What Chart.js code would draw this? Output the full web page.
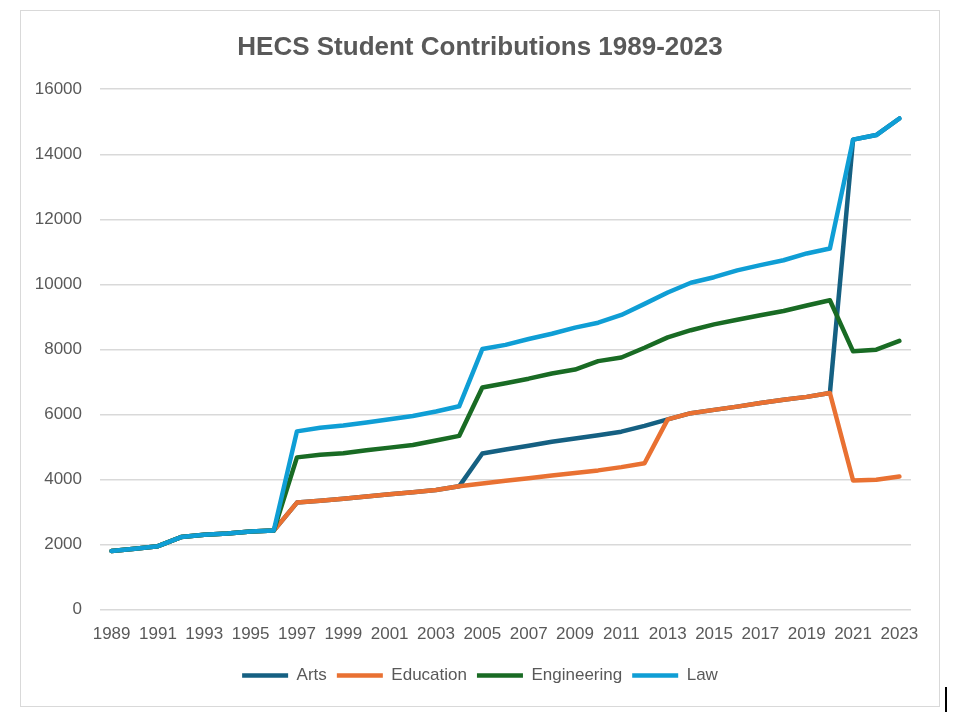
<!DOCTYPE html>
<html>
<head>
<meta charset="utf-8">
<script src="https://cdn.jsdelivr.net/npm/chart.js@4.4.1/dist/chart.umd.min.js"></script>
<style>
  body { margin: 0; background: #fff; }
  #frame { position: absolute; left: 20px; top: 10px; width: 920px; height: 697px;
           border: 1px solid #d9d9d9; box-sizing: border-box; }
  #cursor { position: absolute; left: 945px; top: 687px; width: 2px; height: 25px; background: #000; }
</style>
</head>
<body>
<div id="frame"><canvas id="hecsChart"></canvas></div>
<div id="cursor"></div>
<script>
const years = ['1989','1990','1991','1992','1993','1994','1995','1996','1997','1998',
  '1999','2000','2001','2002','2003','2004','2005','2006','2007','2008',
  '2009','2010','2011','2012','2013','2014','2015','2016','2017','2018',
  '2019','2020','2021','2022','2023'];

const arts = [1800, 1870, 1950, 2230, 2300, 2340, 2400, 2430, 3290, 3350,
  3410, 3480, 3550, 3610, 3680, 3790, 4800, 4920, 5040, 5160,
  5260, 5360, 5470, 5650, 5850, 6040, 6140, 6240, 6350, 6450,
  6540, 6660, 14450, 14590, 15100];

const education = [1800, 1870, 1950, 2230, 2300, 2340, 2400, 2430, 3290, 3350,
  3410, 3480, 3550, 3610, 3680, 3790, 3880, 3960, 4040, 4120,
  4200, 4280, 4380, 4500, 5850, 6040, 6140, 6240, 6350, 6450,
  6540, 6660, 3970, 3990, 4090];

const engineering = [1800, 1870, 1950, 2230, 2300, 2340, 2400, 2430, 4680, 4760,
  4810, 4900, 4980, 5060, 5200, 5340, 6830, 6960, 7100, 7260,
  7380, 7640, 7750, 8050, 8370, 8590, 8770, 8910, 9050, 9180,
  9350, 9510, 7940, 7990, 8260];

const law = [1800, 1870, 1950, 2230, 2300, 2340, 2400, 2430, 5480, 5590,
  5660, 5750, 5850, 5950, 6090, 6250, 8010, 8140, 8320, 8480,
  8670, 8820, 9060, 9400, 9750, 10050, 10220, 10430, 10590, 10740,
  10950, 11100, 14450, 14590, 15100];

const fontFamily = '"Liberation Sans", Arial, sans-serif';
const grey = '#595959';

function line(label, data, color, order) {
  return {
    label: label,
    data: data,
    borderColor: color,
    backgroundColor: color,
    borderWidth: 4.5,
    borderCapStyle: 'round',
    borderJoinStyle: 'round',
    pointRadius: 0,
    tension: 0,
    order: order
  };
}

new Chart(document.getElementById('hecsChart'), {
  type: 'line',
  data: {
    labels: years,
    datasets: [
      line('Arts', arts, '#156082', 4),
      line('Education', education, '#E97132', 3),
      line('Engineering', engineering, '#196B24', 2),
      line('Law', law, '#0F9ED5', 1)
    ]
  },
  options: {
    responsive: true,
    maintainAspectRatio: false,
    animation: false,
    layout: { padding: { left: 0, right: 0, top: 0, bottom: 12 } },
    scales: {
      x: {
        offset: true,
        grid: { display: false, drawTicks: false },
        border: { display: false },
        ticks: {
          color: grey,
          font: { family: fontFamily, size: 17 },
          padding: 15,
          autoSkip: false,
          maxRotation: 0,
          callback: function (value, index) {
            return index % 2 === 0 ? this.getLabelForValue(value) : '';
          }
        },
        afterFit: s => { s.height -= 3; }
      },
      y: {
        min: 0,
        max: 16000,
        grid: { color: '#d9d9d9', lineWidth: 1.5, drawTicks: false },
        border: { display: false },
        ticks: {
          stepSize: 2000,
          color: grey,
          font: { family: fontFamily, size: 17 },
          padding: 18,
          callback: v => String(v)
        },
        afterFit: s => { s.width = 79; }
      },
      // empty right-hand strip so the plot ends where the reference does
      yRight: {
        position: 'right',
        grid: { display: false },
        border: { display: false },
        ticks: { display: false },
        afterFit: s => { s.width = 28; }
      }
    },
    plugins: {
      title: {
        display: true,
        text: 'HECS Student Contributions 1989-2023',
        color: grey,
        font: { family: fontFamily, size: 26, weight: 'bold' },
        padding: { top: 21, bottom: 26 }
      },
      legend: {
        position: 'bottom',
        labels: {
          color: grey,
          font: { family: fontFamily, size: 17 },
          usePointStyle: true,
          pointStyle: 'line',
          pointStyleWidth: 46,
          padding: 10,
          sort: (a, b) => a.datasetIndex - b.datasetIndex
        }
      },
      tooltip: { enabled: false }
    }
  }
});
</script>
</body>
</html>
